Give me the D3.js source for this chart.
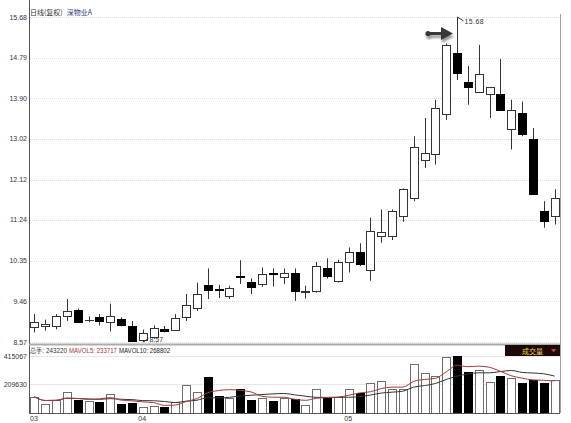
<!DOCTYPE html>
<html><head><meta charset="utf-8">
<script src="https://cdn.jsdelivr.net/npm/d3@7"></script>
<style>body{margin:0;background:#fff;} svg{display:block;}</style>
</head><body>
<script>
// ---- data ----
const opens  = [8.89,8.93,8.91,9.14,9.28,9.05,9.11,9.00,9.07,8.93,8.62,8.69,8.85,8.84,9.11,9.31,9.82,9.72,9.57,10.01,9.89,9.84,10.07,10.00,10.09,9.67,9.69,10.18,9.91,10.31,10.53,10.14,10.88,10.89,11.32,11.73,12.56,12.69,13.56,14.90,14.25,14.03,14.00,13.99,13.22,13.57,13.01,11.43,11.32];
const highs  = [9.18,9.06,9.18,9.51,9.30,9.13,9.18,9.41,9.11,9.03,8.84,8.93,8.92,9.18,9.62,9.87,10.18,9.82,9.80,10.36,9.96,10.20,10.18,10.18,10.18,9.80,10.32,10.40,10.37,10.64,10.73,11.29,11.47,11.47,11.93,13.07,13.47,13.87,15.10,15.68,14.61,15.07,14.15,14.76,13.87,13.83,13.25,11.65,11.91];
const lows   = [8.78,8.82,8.85,9.03,8.99,9.00,8.93,8.80,8.91,8.59,8.57,8.64,8.78,8.82,9.03,9.25,9.51,9.53,9.51,9.84,9.62,9.78,9.78,9.84,9.47,9.52,9.65,9.96,9.87,10.09,10.23,9.91,10.74,10.80,11.20,11.65,12.38,12.45,13.43,14.30,13.76,14.02,13.47,13.65,12.78,13.07,11.80,11.07,11.14];
const closes = [9.01,8.96,9.14,9.25,9.00,9.06,9.04,9.14,8.95,8.60,8.77,8.87,8.80,9.09,9.38,9.63,9.71,9.71,9.76,10.00,9.78,10.05,10.05,10.09,9.69,9.68,10.23,10.02,10.31,10.54,10.27,11.00,10.98,11.43,11.91,12.84,12.71,13.69,15.07,14.45,14.15,14.43,14.15,13.65,13.64,13.11,11.80,11.22,11.73];
const volumes = [118700,63400,94700,155100,96900,85200,81600,141300,64100,72800,45900,53200,41500,76500,200300,155100,264300,121600,109200,172600,98300,105600,88800,107000,99800,60400,177000,118700,118700,172600,143500,220600,233000,172600,172600,354600,289100,271600,410000,415067,300000,310000,227900,266468,252000,215000,243000,215365,243220];
const priceTicks = ["15.68","14.79","13.90","13.02","12.12","11.24","10.35","9.46","8.57"];
const volumeTicks = ["415067","209630"];
const monthLabels = ["03","04","05"];
const monthStarts = [0,10,29];
const titleMain = "日线(复权)";
const titleStock = "深物业A";
const legendTotal = "总手: 243220";
const legendMa5 = "MAVOL5: 233717";
const legendMa10 = "MAVOL10: 268802";
const maxLabel = "15.68";
const minLabel = "8.57";

// ---- layout ----
const W = 571, H = 423;
const N = opens.length;
const left = 29, right = 560;
const svg = d3.select("body").append("svg").attr("width", W).attr("height", H)
  .style("font-family", "'Liberation Sans', Arial, sans-serif");

const x = d3.scaleBand().domain(d3.range(N)).range([left, right]).paddingInner(0.2).paddingOuter(0.1);
const step = x.step();
const cx = i => Math.round(x(i) + x.bandwidth() / 2) + 0.5;
const y = d3.scaleLinear().domain([8.57, 15.68]).range([342, 17]);
const yv = d3.scaleLinear().domain([0, 415067]).range([413, 356]);

// grid lines price
svg.append("g").selectAll("line").data(priceTicks).join("line")
  .attr("x1", left + 1).attr("x2", right)
  .attr("y1", d => Math.round(y(+d)) + 0.5).attr("y2", d => Math.round(y(+d)) + 0.5)
  .attr("stroke", "#dcdcdc").attr("stroke-dasharray", "1,1");
svg.append("g").selectAll("text").data(priceTicks).join("text")
  .attr("x", 27).attr("y", d => y(+d) + 2.5).attr("text-anchor", "end")
  .attr("font-size", 7).attr("fill", "#333").text(d => d);

// volume grid
svg.append("g").selectAll("line").data(volumeTicks).join("line")
  .attr("x1", left + 1).attr("x2", right)
  .attr("y1", d => Math.round(yv(+d)) + 0.5).attr("y2", d => Math.round(yv(+d)) + 0.5)
  .attr("stroke", "#e6e6e6");
svg.append("g").selectAll("text").data(volumeTicks).join("text")
  .attr("x", 27).attr("y", d => yv(+d) + 2.5).attr("text-anchor", "end")
  .attr("font-size", 7).attr("fill", "#333").text(d => d);

// title
const t = svg.append("text").attr("x", 30).attr("y", 15).attr("font-size", 7)
  .style("font-family", "'Noto Sans CJK SC', sans-serif");
t.append("tspan").attr("fill", "#333").text(titleMain);
t.append("tspan").attr("fill", "#23407a").attr("dx", 4).text(titleStock);

// candles
const g = svg.append("g");
for (let i = 0; i < N; i++) {
  const o = opens[i], c = closes[i], up = c >= o;
  const xc = cx(i);
  g.append("line").attr("x1", xc).attr("x2", xc)
    .attr("y1", y(highs[i])).attr("y2", y(lows[i]))
    .attr("stroke", "#333").attr("stroke-width", 1);
  const yt = Math.round(y(Math.max(o, c))), yb = Math.round(y(Math.min(o, c)));
  g.append("rect").attr("x", xc - 4).attr("width", 8)
    .attr("y", yt + 0.5).attr("height", Math.max(0.01, yb - yt))
    .attr("fill", up ? "#fff" : "#000").attr("stroke", up ? "#333" : "#000");
}

// volume bars
const gv = svg.append("g");
for (let i = 0; i < N; i++) {
  const up = closes[i] >= opens[i];
  const xc = cx(i);
  const top = Math.round(yv(volumes[i]));
  gv.append("rect").attr("x", xc - 4).attr("width", 8)
    .attr("y", top + 0.5).attr("height", 413 - top)
    .attr("fill", up ? "#fff" : "#000").attr("stroke", up ? "#6e6e6e" : "#000");
}

// moving averages of volume
function ma(n) {
  return volumes.map((v, i) => d3.mean(volumes.slice(Math.max(0, i - n + 1), i + 1)));
}
const line = d3.line().x((d, i) => x(i) + x.bandwidth() / 2).y(d => yv(d)).curve(d3.curveMonotoneX);
svg.append("path").attr("d", line(ma(10))).attr("fill", "none").attr("stroke", "#333").attr("stroke-width", 1);
svg.append("path").attr("d", line(ma(5))).attr("fill", "none").attr("stroke", "#a33a3a").attr("stroke-width", 1);

// axes / borders
svg.append("line").attr("x1", left + 0.5).attr("x2", left + 0.5).attr("y1", 0).attr("y2", 413).attr("stroke", "#555");
svg.append("line").attr("x1", right + 0.5).attr("x2", right + 0.5).attr("y1", 14).attr("y2", 413).attr("stroke", "#a0a0a0");
svg.append("line").attr("x1", left).attr("x2", right).attr("y1", 344.5).attr("y2", 344.5).attr("stroke", "#ababab").attr("stroke-width", 2);
svg.append("line").attr("x1", left).attr("x2", right).attr("y1", 413.5).attr("y2", 413.5).attr("stroke", "#555");

// legend
const lg = svg.append("g").attr("font-size", 7);
lg.append("text").attr("x", 30).attr("y", 353).attr("fill", "#333").text(legendTotal)
  .attr("textLength", 37).attr("lengthAdjust", "spacingAndGlyphs");
lg.append("text").attr("x", 69).attr("y", 353).attr("fill", "#a33a3a").text(legendMa5)
  .attr("textLength", 48).attr("lengthAdjust", "spacingAndGlyphs");
lg.append("text").attr("x", 119).attr("y", 353).attr("fill", "#222").text(legendMa10)
  .attr("textLength", 51).attr("lengthAdjust", "spacingAndGlyphs");

// 成交量 box
svg.append("rect").attr("x", 505).attr("y", 345).attr("width", 55).attr("height", 11).attr("fill", "#1e0707");
svg.append("text").attr("x", 522).attr("y", 353.5).attr("font-size", 7).attr("fill", "#e6d84c")
  .style("font-family", "'Noto Sans CJK SC', sans-serif").text("成交量");
svg.append("path").attr("d", "M551,349 L556,349 L553.5,352.5 Z").attr("fill", "#d03a3a");

// month labels
svg.append("g").selectAll("text").data(monthLabels).join("text")
  .attr("x", (d, k) => left + monthStarts[k] * step + 1).attr("y", 421)
  .attr("font-size", 7).attr("fill", "#333").text(d => d);

// max / min annotations
const iMax = highs.indexOf(d3.max(highs)), iMin = lows.indexOf(d3.min(lows));
const xm = cx(iMax), ym = y(highs[iMax]);
svg.append("path").attr("d", `M${xm},${ym} L${xm + 6},${ym + 4}`).attr("stroke", "#333").attr("fill", "none");
svg.append("text").attr("x", xm + 7).attr("y", ym + 7).attr("font-size", 7).attr("fill", "#333")
  .attr("letter-spacing", 0.4).text(maxLabel);
const xn = cx(iMin), yn = y(lows[iMin]);
svg.append("path").attr("d", `M${xn},${yn} L${xn + 5},${yn - 4}`).attr("stroke", "#333").attr("fill", "none");
svg.append("text").attr("x", xn + 6).attr("y", yn).attr("font-size", 7).attr("fill", "#333").text(minLabel);

// arrow
const defs = svg.append("defs");
defs.append("filter").attr("id", "blur").append("feGaussianBlur").attr("stdDeviation", 1.2);
const arrowPath = "M428,32 L441,32 L441,27 L453,33.5 L441,40 L441,35 L428,35 Z";
svg.append("path").attr("d", arrowPath).attr("transform", "translate(1,3)").attr("fill", "#9a9a9a").attr("filter", "url(#blur)");
svg.append("circle").attr("cx", 429).attr("cy", 36.5).attr("r", 2.6).attr("fill", "#9a9a9a").attr("filter", "url(#blur)");
svg.append("path").attr("d", arrowPath).attr("fill", "#383838");
svg.append("circle").attr("cx", 428).attr("cy", 33.5).attr("r", 2.6).attr("fill", "#383838");
</script>
</body></html>
